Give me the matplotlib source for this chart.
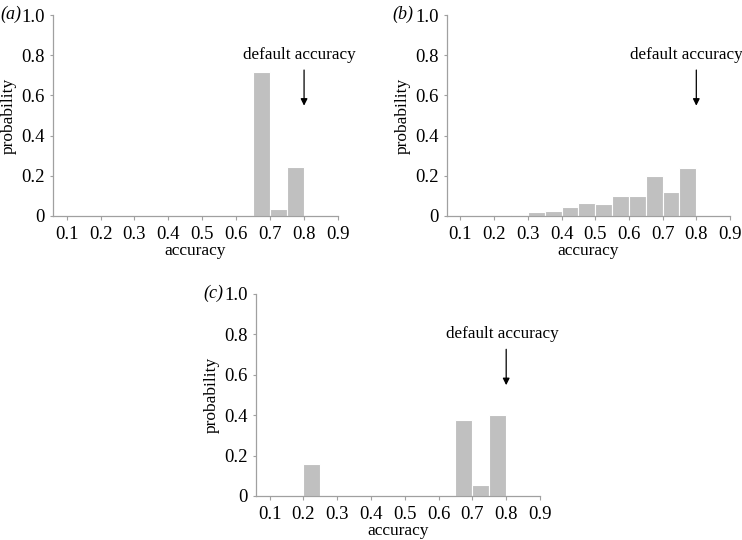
import matplotlib.pyplot as plt

plt.rcParams['font.family'] = ['Liberation Serif', 'DejaVu Serif']

# bin left edges (width 0.05) and probabilities for each panel
bins_a = [0.65, 0.70, 0.75]
prob_a = [0.715, 0.035, 0.245]

bins_b = [0.20, 0.30, 0.35, 0.40, 0.45, 0.50, 0.55, 0.60, 0.65, 0.70, 0.75]
prob_b = [0.004, 0.022, 0.027, 0.047, 0.067, 0.058, 0.100, 0.100, 0.197, 0.118, 0.238]

bins_c = [0.20, 0.65, 0.70, 0.75]
prob_c = [0.157, 0.378, 0.055, 0.402]

xticks = [0.1, 0.2, 0.3, 0.4, 0.5, 0.6, 0.7, 0.8, 0.9]
yticks = [0, 0.2, 0.4, 0.6, 0.8, 1.0]
ytick_labels = ['0', '0.2', '0.4', '0.6', '0.8', '1.0']
default_acc = 0.8

W, H = 742, 540
fig = plt.figure(figsize=(W / 100, H / 100), dpi=100)

# axes boxes in pixels: left, right, top, bottom
boxes = {
    'a': (53, 338, 15, 216),
    'b': (447, 730, 15, 216),
    'c': (256, 540, 294, 496),
}
data = {'a': (bins_a, prob_a), 'b': (bins_b, prob_b), 'c': (bins_c, prob_c)}
label_x = {'a': 0, 'b': 392, 'c': 203}
text_x = {'a': 0.787, 'b': 0.771, 'c': 0.79}

for key, (l, r, t, b) in boxes.items():
    ax = fig.add_axes([l / W, 1 - b / H, (r - l) / W, (b - t) / H])
    edges, probs = data[key]
    ax.bar(edges, probs, width=0.05, align='edge', color='#c0c0c0',
           edgecolor='white', linewidth=0.8)
    ax.set_xlim(0.06, 0.9)
    ax.set_ylim(0, 1.0)
    ax.set_xticks(xticks)
    ax.set_xticklabels([str(v) for v in xticks])
    ax.set_yticks(yticks)
    ax.set_yticklabels(ytick_labels)
    for s in ['top', 'right']:
        ax.spines[s].set_visible(False)
    for s in ['left', 'bottom']:
        ax.spines[s].set_color('#a0a0a0')
        ax.spines[s].set_linewidth(0.9)
    ax.tick_params(axis='x', length=3, color='#a0a0a0', labelsize=13.5, pad=4)
    ax.tick_params(axis='y', length=2, color='#a0a0a0', labelsize=13.5, pad=4)
    ax.set_xlabel('accuracy', fontsize=12.5, labelpad=0)
    ax.set_ylabel('probability', fontsize=12.5, labelpad=3)
    ax.annotate('', xy=(default_acc, 0.535), xytext=(default_acc, 0.74),
                arrowprops=dict(arrowstyle='-|>', color='black', lw=0.9,
                                mutation_scale=10))
    ax.text(text_x[key], 0.80, 'default accuracy', ha='center', va='center',
            fontsize=12.3)
    fig.text(label_x[key] / W, 1 - (t - 1) / H, '(' + key + ')', ha='left',
             va='center', fontsize=13, style='italic')

fig.savefig('out.png', dpi=100)
